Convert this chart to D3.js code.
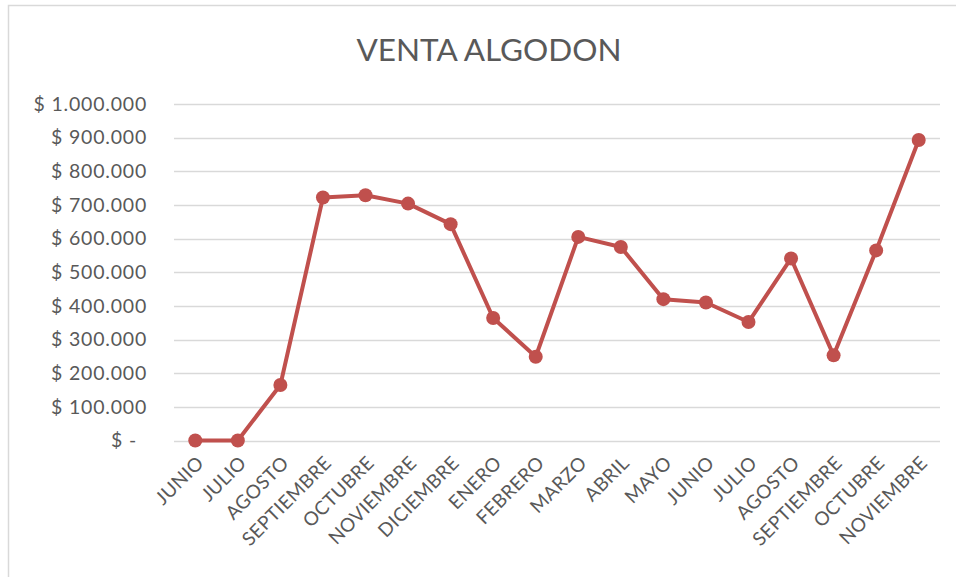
<!DOCTYPE html>
<html>
<head>
<meta charset="utf-8">
<script src="https://cdn.jsdelivr.net/npm/d3@7"></script>
<style>
  body { margin: 0; background: #fff; }
  text { font-family: Lato, "Open Sans", sans-serif; fill: #595959; }
</style>
</head>
<body>
<script>
// months, in order as on the axis
var months = ["JUNIO", "JULIO", "AGOSTO", "SEPTIEMBRE", "OCTUBRE", "NOVIEMBRE", "DICIEMBRE",
  "ENERO", "FEBRERO", "MARZO", "ABRIL", "MAYO", "JUNIO", "JULIO", "AGOSTO", "SEPTIEMBRE",
  "OCTUBRE", "NOVIEMBRE"];
// sales
var ventas = [0, 0, 165000, 722000, 729000, 704000, 643000, 364000, 249000, 605000,
  575000, 420000, 410000, 352000, 541000, 253000, 565000, 893000];
var yTicks = [0, 100000, 200000, 300000, 400000, 500000, 600000, 700000, 800000, 900000, 1000000];

var w = 956, h = 577;
var svg = d3.select("body").append("svg")
    .attr("width", w)
    .attr("height", h);

// chart frame
svg.append("rect")
    .attr("x", 8.5).attr("y", 5.5)
    .attr("width", w + 10).attr("height", h + 10)
    .attr("fill", "none")
    .attr("stroke", "#d9d9d9")
    .attr("stroke-width", 1.5);

var plotLeft = 174, plotRight = 940, plotTop = 104, plotBottom = 440.5;

var x = d3.scaleBand()
    .domain(d3.range(months.length))
    .range([plotLeft, plotRight]);

var y = d3.scaleLinear()
    .domain([0, 1000000])
    .range([plotBottom, plotTop]);

// title
svg.append("text")
    .attr("x", 489).attr("y", 61)
    .attr("text-anchor", "middle")
    .style("font-size", "31.5px")
    .text("VENTA ALGODON");

// gridlines
svg.selectAll(".grid")
    .data(yTicks)
    .enter().append("line")
    .attr("class", "grid")
    .attr("x1", plotLeft).attr("x2", plotRight)
    .attr("y1", function(d) { return Math.round(y(d)) + 0.5; })
    .attr("y2", function(d) { return Math.round(y(d)) + 0.5; })
    .attr("stroke", "#d9d9d9")
    .attr("stroke-width", 1.5);

// y labels
function fmt(d) {
  if (d === 0) return "$ -";
  return "$ " + d3.format(",")(d).replace(/,/g, ".");
}
svg.selectAll(".ylab")
    .data(yTicks)
    .enter().append("text")
    .attr("class", "ylab")
    .attr("x", function(d) { return d === 0 ? 137 : 147; })
    .attr("y", function(d) { return y(d); })
    .attr("dy", "0.35em")
    .attr("text-anchor", "end")
    .style("font-size", "19.5px")
    .style("letter-spacing", "0.8px")
    .text(fmt);

// x labels rotated
svg.selectAll(".xlab")
    .data(months)
    .enter().append("text")
    .attr("class", "xlab")
    .attr("transform", function(d, i) {
      var cx = x(i) + x.bandwidth() / 2 + 5;
      return "translate(" + cx + "," + (plotBottom + 19) + ") rotate(-45)";
    })
    .attr("text-anchor", "end")
    .attr("dy", "0.35em")
    .style("font-size", "19px")
    .style("letter-spacing", "0.4px")
    .text(function(d) { return d; });

// line + markers
var line = d3.line()
    .x(function(d, i) { return x(i) + x.bandwidth() / 2; })
    .y(function(d) { return y(d); });

svg.append("path")
    .datum(ventas)
    .attr("d", line)
    .attr("fill", "none")
    .attr("stroke", "#C0504D")
    .attr("stroke-width", 4)
    .attr("stroke-linejoin", "round");

svg.selectAll(".pt")
    .data(ventas)
    .enter().append("circle")
    .attr("class", "pt")
    .attr("cx", function(d, i) { return x(i) + x.bandwidth() / 2; })
    .attr("cy", function(d) { return y(d); })
    .attr("r", 7)
    .attr("fill", "#C0504D");
</script>
</body>
</html>
